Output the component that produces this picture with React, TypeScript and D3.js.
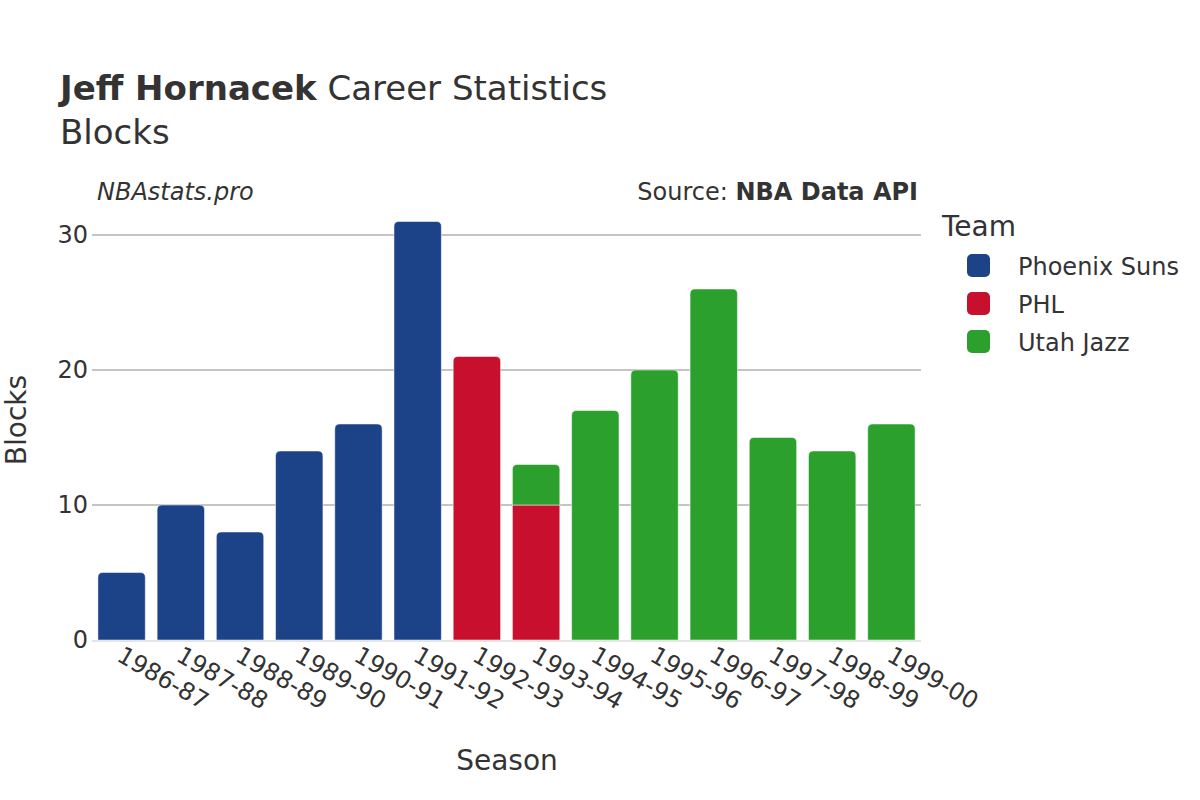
import React from "react";
import * as d3 from "d3";

const seasons = ["1986-87","1987-88","1988-89","1989-90","1990-91","1991-92","1992-93","1993-94","1994-95","1995-96","1996-97","1997-98","1998-99","1999-00"];
const teams = ["Phoenix Suns", "PHL", "Utah Jazz"];
const teamColors = ["#1c4288", "#c8102e", "#2ca02c"];
const phoenix = [5, 10, 8, 14, 16, 31, 0, 0, 0, 0, 0, 0, 0, 0];
const phl = [0, 0, 0, 0, 0, 0, 21, 10, 0, 0, 0, 0, 0, 0];
const utah = [0, 0, 0, 0, 0, 0, 0, 3, 17, 20, 26, 15, 14, 16];
const yTicks = [0, 10, 20, 30];

const FONT = "'DejaVu Sans', sans-serif";

function barPath(x: number, y0: number, y1: number, w: number, r: number, roundTop: boolean) {
  const h = y0 - y1;
  if (!roundTop || h <= 0) return `M${x},${y0}V${y1}H${x + w}V${y0}Z`;
  const rr = Math.min(r, h, w / 2);
  return `M${x},${y0}V${y1 + rr}Q${x},${y1} ${x + rr},${y1}H${x + w - rr}Q${x + w},${y1} ${x + w},${y1 + rr}V${y0}Z`;
}

export default function App() {
  const W = 1200, H = 800;
  const left = 92, right = 921, bottom = 640;
  const x = d3.scaleBand<string>().domain(seasons).range([left, right]).paddingInner(0.2).paddingOuter(0.1);
  const y = d3.scaleLinear().domain([0, 30]).range([bottom, bottom - 405]);
  const series = [phoenix, phl, utah];

  const bars: React.ReactNode[] = [];
  seasons.forEach((s, i) => {
    let acc = 0;
    const vals = series.map((arr) => arr[i]);
    let lastIdx = -1;
    vals.forEach((v, k) => { if (v > 0) lastIdx = k; });
    vals.forEach((v, k) => {
      if (v <= 0) return;
      const yb = y(acc);
      const yt = y(acc + v);
      acc += v;
      bars.push(
        <path key={`${s}-${k}`} d={barPath(x(s)!, yb, yt, x.bandwidth(), 5, k === lastIdx)}
          fill={teamColors[k]} stroke="#ffffff" strokeWidth={0.5} />
      );
    });
  });

  return (
    <svg width={W} height={H} style={{ display: "block", position: "absolute", left: 0, top: 0 }} fontFamily={FONT}>
      <rect width={W} height={H} fill="#fff" />
      <text x={60} y={100} fontSize={34} fill="#333">
        <tspan fontWeight="bold">Jeff Hornacek</tspan> Career Statistics
      </text>
      <text x={60} y={144} fontSize={34} fill="#333">Blocks</text>
      <text x={97} y={200} fontSize={24} fontStyle="italic" fill="#333">NBAstats.pro</text>
      <text x={918} y={200} fontSize={24} textAnchor="end" fill="#333">
        Source: <tspan fontWeight="bold">NBA Data API</tspan>
      </text>

      {yTicks.filter((t) => t > 0).map((t) => (
        <line key={t} x1={left} x2={right} y1={y(t)} y2={y(t)} stroke="#8a8a8a" strokeWidth={1} />
      ))}
      {bars}
      <line x1={left} x2={right} y1={y(0) + 1} y2={y(0) + 1} stroke="#e5e5e5" strokeWidth={2} />

      {yTicks.map((t) => (
        <text key={t} x={88} y={y(t) + 8} fontSize={24} textAnchor="end" fill="#333">{t}</text>
      ))}
      {seasons.map((s) => {
        const cx = x(s)! + x.bandwidth() / 2;
        return (
          <text key={s} transform={`translate(${cx - 6},${660}) rotate(30)`} fontSize={24} fill="#333">{s}</text>
        );
      })}
      <text x={507} y={770} fontSize={28} textAnchor="middle" fill="#333">Season</text>
      <text transform={`translate(26,420) rotate(-90)`} fontSize={28} textAnchor="middle" fill="#333">Blocks</text>

      <text x={942} y={236} fontSize={28} fill="#333">Team</text>
      {teams.map((t, i) => (
        <g key={t}>
          <rect x={967} y={254 + i * 38} width={23} height={23} rx={5} fill={teamColors[i]} />
          <text x={1018} y={275 + i * 38} fontSize={24} fill="#333">{t}</text>
        </g>
      ))}
    </svg>
  );
}
